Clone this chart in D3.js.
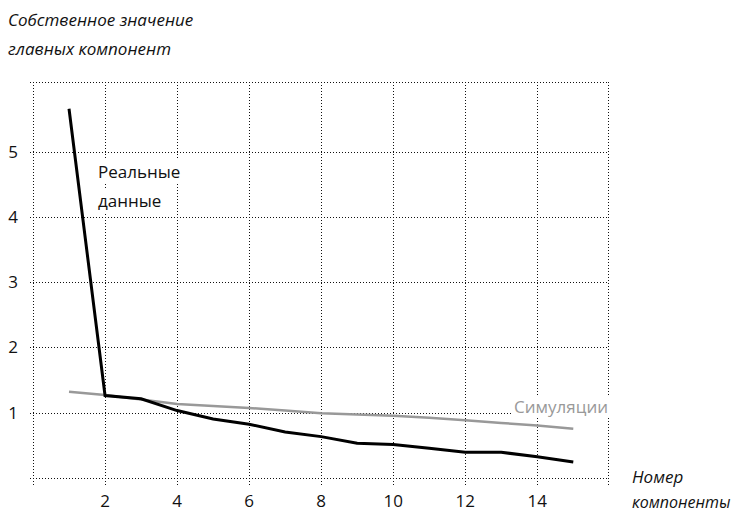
<!DOCTYPE html>
<html>
<head>
<meta charset="utf-8">
<script src="https://cdn.jsdelivr.net/npm/d3@7"></script>
<style>
  body { margin: 0; background: #fff; }
  text { font-family: "Open Sans", "Noto Sans", sans-serif; }
</style>
</head>
<body>
<svg id="chart"></svg>
<script>
// data
var components = [1, 2, 3, 4, 5, 6, 7, 8, 9, 10, 11, 12, 13, 14, 15];
var realValues = [5.66, 1.26, 1.21, 1.03, 0.90, 0.82, 0.70, 0.63, 0.53, 0.51, 0.45, 0.39, 0.39, 0.32, 0.24];
var simValues  = [1.32, 1.27, 1.20, 1.13, 1.10, 1.07, 1.03, 0.99, 0.97, 0.95, 0.92, 0.88, 0.84, 0.80, 0.75];
var xTicks = [2, 4, 6, 8, 10, 12, 14];
var yTicks = [1, 2, 3, 4, 5];
var xGrid = [0, 2, 4, 6, 8, 10, 12, 14, 15.95];
var yGrid = [0, 1, 2, 3, 4, 5, 6.07];

var width = 741, height = 513;
var svg = d3.select('#chart').attr('width', width).attr('height', height);

var x = d3.scaleLinear().domain([0, 15.95]).range([33, 607.5]);
var y = d3.scaleLinear().domain([0, 6.07]).range([477.7, 82]);

// ****************************************
// Grid (dotted)

var grid = svg.append('g').attr('stroke', '#111').attr('stroke-width', 1).attr('stroke-dasharray', '1 2');

grid.selectAll('line.h').data(yGrid).enter().append('line')
  .attr('x1', 30).attr('x2', x(15.95))
  .attr('y1', d => Math.round(y(d)) + 0.5).attr('y2', d => Math.round(y(d)) + 0.5);

grid.selectAll('line.v').data(xGrid).enter().append('line')
  .attr('x1', d => Math.round(x(d)) + 0.5).attr('x2', d => Math.round(x(d)) + 0.5)
  .attr('y1', y(6.07)).attr('y2', 487);

// ****************************************
// Tick labels

svg.append('g').selectAll('text').data(yTicks).enter().append('text')
  .attr('x', 13).attr('y', d => y(d)).attr('dy', '0.36em')
  .attr('text-anchor', 'middle').style('font-size', '17px').attr('fill', '#111')
  .text(d => d);

svg.append('g').selectAll('text').data(xTicks).enter().append('text')
  .attr('x', d => x(d)).attr('y', 507)
  .attr('text-anchor', 'middle').style('font-size', '17px').attr('fill', '#111')
  .text(d => d);

// ****************************************
// Lines

var line = d3.line().x((d, i) => x(components[i])).y(d => y(d));

svg.append('path').datum(simValues).attr('d', line)
  .attr('fill', 'none').attr('stroke', '#999').attr('stroke-width', 2.5);

svg.append('path').datum(realValues).attr('d', line)
  .attr('fill', 'none').attr('stroke', '#000').attr('stroke-width', 3).attr('stroke-linejoin', 'miter');

// ****************************************
// Labels with white background

function boxedText(lines, px, py, lh, color, anchor){
  var g = svg.append('g');
  var texts = lines.map((t, i) => g.append('text').attr('x', px).attr('y', py + i*lh)
    .attr('text-anchor', anchor).style('font-size', '17px').attr('fill', color).text(t));
  texts.forEach(t => {
    var b = t.node().getBBox();
    g.insert('rect', 'text').attr('x', b.x - 3).attr('y', b.y).attr('width', b.width + 6).attr('height', b.height).attr('fill', '#fff');
  });
}

boxedText(['Реальные', 'данные'], 98, 178, 29, '#111', 'start');
boxedText(['Симуляции'], 608, 413, 0, '#999', 'end');

// ****************************************
// Axis titles

var titles = svg.append('g').style('font-size', '17px').style('font-style', 'italic').attr('fill', '#111');
titles.append('text').attr('x', 8).attr('y', 26).text('Собственное значение');
titles.append('text').attr('x', 8).attr('y', 55).text('главных компонент');
titles.append('text').attr('x', 632).attr('y', 483).text('Номер');
titles.append('text').attr('x', 632).attr('y', 508).style('font-size', '16px').text('компоненты');
</script>
</body>
</html>
